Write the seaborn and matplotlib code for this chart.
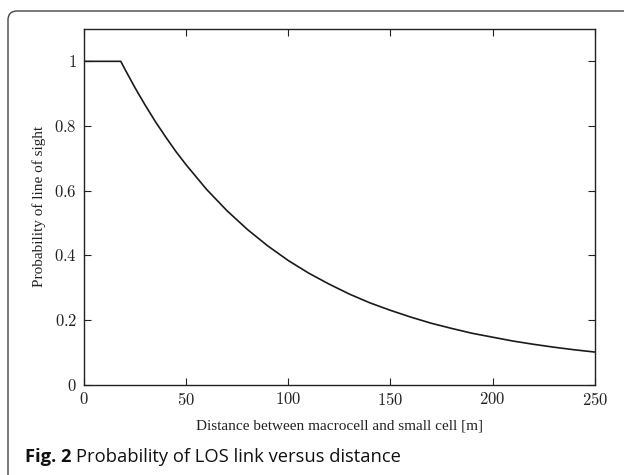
import numpy as np
import matplotlib
matplotlib.use("Agg")
import matplotlib.pyplot as plt
import seaborn as sns
from matplotlib.patches import FancyBboxPatch
from matplotlib.ticker import FuncFormatter
from matplotlib.transforms import IdentityTransform

# distance [m] and LOS probability
distance = [0, 18, 20, 25, 30, 35, 40, 45, 50, 60, 70, 80, 90, 100, 110, 120,
            130, 140, 150, 160, 170, 180, 190, 200, 210, 220, 230, 240, 250]
p_los = [1.0, 1.0, 0.976, 0.918, 0.864, 0.813, 0.766, 0.721, 0.680, 0.604,
         0.538, 0.480, 0.429, 0.384, 0.345, 0.311, 0.280, 0.253, 0.230, 0.209,
         0.190, 0.174, 0.159, 0.147, 0.135, 0.125, 0.116, 0.108, 0.101]

x_ticks = [0, 50, 100, 150, 200, 250]
y_ticks = [0, 0.2, 0.4, 0.6, 0.8, 1]

sns.set_style("ticks")
plt.rcParams['mathtext.fontset'] = 'cm'
plt.rcParams['font.family'] = ['Liberation Serif', 'DejaVu Serif']

W, H = 624, 475
fig = plt.figure(figsize=(W / 100, H / 100), dpi=100)
ax = fig.add_axes([84 / W, 1 - 384.7 / H, (594.7 - 84) / W, (384.7 - 29) / H])

sns.lineplot(x=distance, y=p_los, ax=ax, color='#1a1a1a', lw=1.2)

ax.set_xlim(0, 250)
ax.set_ylim(0, 1.1)
ax.set_xticks(x_ticks)
ax.set_yticks(y_ticks)
fmt = FuncFormatter(lambda v, p: f'${v:g}$')
ax.xaxis.set_major_formatter(fmt)
ax.yaxis.set_major_formatter(fmt)
ax.tick_params(direction='in', length=5, width=0.8, top=True, right=True,
               labelsize=12, colors='#222222', pad=5)
for s in ax.spines.values():
    s.set_linewidth(1.0)
    s.set_color('#222222')

ax.set_xlabel('Distance between macrocell and small cell [m]', fontsize=11,
              color='#222222', labelpad=8)
ax.set_ylabel('Probability of line of sight', fontsize=11, color='#222222',
              labelpad=6)

# rounded panel border (open at right/bottom), in pixel coordinates
box = FancyBboxPatch((8, -20), W + 40, H - 11 + 20,
                     boxstyle='round,pad=0,rounding_size=9',
                     transform=IdentityTransform(), fill=False,
                     edgecolor='#444444', lw=1.0, clip_on=False)
fig.patches.append(box)

# caption
t1 = fig.text(25 / W, 1 - 462 / H, 'Fig. 2', fontsize=13.2, fontweight='bold',
              family=['Open Sans', 'DejaVu Sans'], color='#111111')
fig.canvas.draw()
bb = t1.get_window_extent()
fig.text((bb.x1 + 4) / W, 1 - 462 / H, 'Probability of LOS link versus distance',
         fontsize=13.2, family=['Open Sans', 'DejaVu Sans'], color='#111111')

fig.savefig('out.png', dpi=100)
